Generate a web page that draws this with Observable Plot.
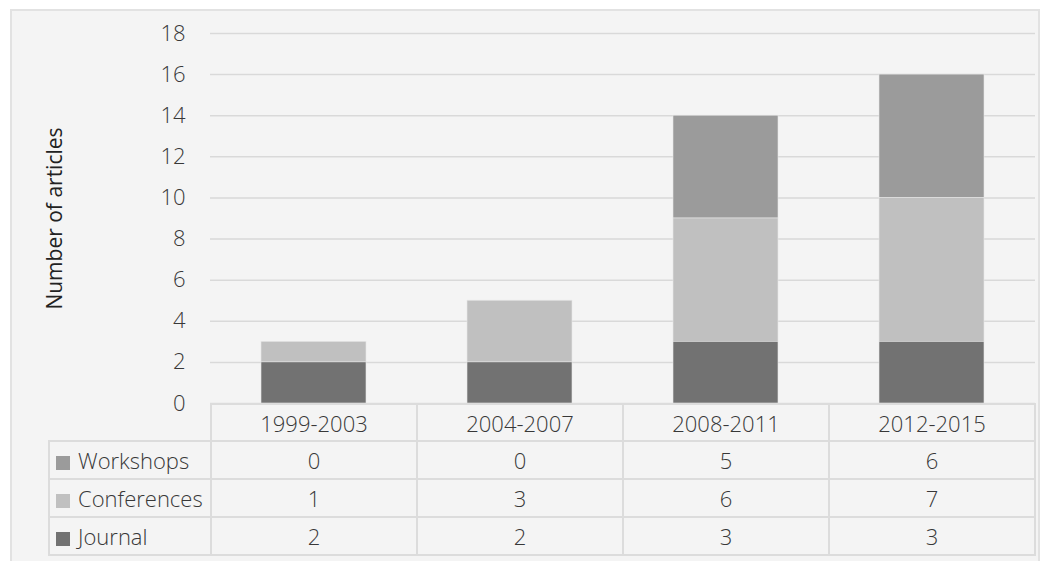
<!DOCTYPE html>
<html>
<head>
<meta charset="utf-8">
<script src="https://cdn.jsdelivr.net/npm/d3@7"></script>
<script src="https://cdn.jsdelivr.net/npm/@observablehq/plot@0.6"></script>
<style>
  html, body { margin: 0; padding: 0; background: #ffffff; width: 1046px; height: 561px; overflow: hidden; }
  #frame { position: absolute; left: 10px; top: 9px; width: 1026px; height: 600px; background: #f4f4f4; border: 2px solid #e2e2e2; }
  #chart { position: absolute; left: 0; top: 0; }
  #tbl { position: absolute; left: 48px; top: 403px; border-collapse: collapse; table-layout: fixed;
         font-family: "Open Sans", sans-serif; font-weight: 300; font-size: 22px; color: #383838; }
  #tbl td { border: 2px solid #dcdcdc; padding: 0; text-align: center; white-space: nowrap; overflow: hidden; }
  #tbl td.lab { text-align: left; padding-left: 6px; }
  #tbl td.blank { border-top: none; border-left: none; }
  .sw { display: inline-block; width: 14px; height: 14px; margin-right: 8px; vertical-align: -1px; }
</style>
</head>
<body>
<div id="frame"></div>
<div id="chart"></div>
<table id="tbl"></table>
<script>
const periods = ["1999-2003", "2004-2007", "2008-2011", "2012-2015"];
const seriesNames = ["Workshops", "Conferences", "Journal"];
const workshops = [0, 0, 5, 6];
const conferences = [1, 3, 6, 7];
const journal = [2, 2, 3, 3];
const seriesColors = ["#9b9b9b", "#c0c0c0", "#727272"];
const yTicks = [0, 2, 4, 6, 8, 10, 12, 14, 16, 18];
const yTitle = "Number of articles";

const valuesBySeries = {Workshops: workshops, Conferences: conferences, Journal: journal};
const rows = [];
for (const s of seriesNames) {
  periods.forEach((p, i) => rows.push({period: p, series: s, value: valuesBySeries[s][i]}));
}

const chart = Plot.plot({
  width: 1046,
  height: 404,
  marginLeft: 210,
  marginRight: 11,
  marginTop: 33,
  marginBottom: 1,
  style: {background: "transparent", fontFamily: "Open Sans, sans-serif", fontSize: "22px", fontWeight: 300, color: "#383838", overflow: "visible"},
  x: {domain: periods, paddingInner: 0.49, paddingOuter: 0.245, axis: null},
  y: {domain: [0, 18]},
  color: {domain: seriesNames, range: seriesColors},
  marks: [
    Plot.gridY({ticks: yTicks, stroke: "#d9d9d9", strokeOpacity: 1, strokeWidth: 1.5}),
    Plot.barY(rows, {x: "period", y: "value", fill: "series", order: ["Journal", "Conferences", "Workshops"], stroke: "#e6e6e6", strokeWidth: 0.6}),
    Plot.axisY({ticks: yTicks, tickSize: 0, tickPadding: 25, label: null, fontSize: 22, fontWeight: 300}),
    Plot.text([yTitle], {frameAnchor: "left", textAnchor: "middle", text: d => d, rotate: -90, dx: -155, fontSize: 21, fontWeight: 400, fill: "#222222"})
  ]
});
document.getElementById("chart").appendChild(chart);

// table aligned with the x scale
const xs = chart.scale("x");
const step = xs.step;
const tbl = document.getElementById("tbl");
const colg = document.createElement("colgroup");
const c0 = document.createElement("col"); c0.style.width = (210 - 48) + "px"; colg.appendChild(c0);
periods.forEach(() => { const c = document.createElement("col"); c.style.width = step + "px"; colg.appendChild(c); });
tbl.appendChild(colg);

const hr = document.createElement("tr"); hr.style.height = "37px";
const blank = document.createElement("td"); blank.className = "blank"; hr.appendChild(blank);
periods.forEach(p => { const td = document.createElement("td"); td.textContent = p; hr.appendChild(td); });
tbl.appendChild(hr);

seriesNames.forEach((s, k) => {
  const tr = document.createElement("tr"); tr.style.height = "38px";
  const lab = document.createElement("td"); lab.className = "lab";
  const sw = document.createElement("span"); sw.className = "sw"; sw.style.background = seriesColors[k];
  lab.appendChild(sw); lab.appendChild(document.createTextNode(s));
  tr.appendChild(lab);
  valuesBySeries[s].forEach(v => { const td = document.createElement("td"); td.textContent = v; tr.appendChild(td); });
  tbl.appendChild(tr);
});
</script>
</body>
</html>
